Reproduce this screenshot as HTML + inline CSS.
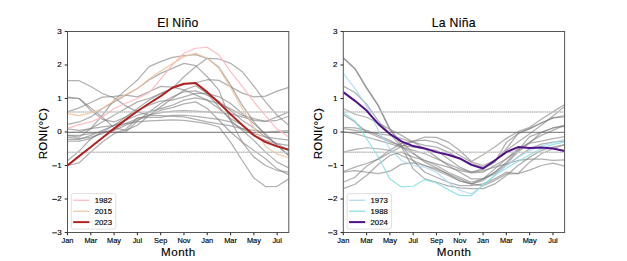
<!DOCTYPE html>
<html><head><meta charset="utf-8"><style>
html,body{margin:0;padding:0;background:#fff;width:627px;height:261px;overflow:hidden}
svg{display:block}
text{font-family:"Liberation Sans", sans-serif;fill:#000;stroke:#000;stroke-width:0.15px}
</style></head><body>
<svg width="627" height="261" viewBox="0 0 627 261">
<rect width="627" height="261" fill="#fff"/>
<g>
<clipPath id="clipL"><rect x="67.5" y="31.5" width="221.3" height="201.0"/></clipPath>
<g clip-path="url(#clipL)">
<polyline points="67.50,80.74 79.15,80.74 90.79,86.44 102.44,93.47 114.09,97.83 125.74,105.87 137.38,111.90 149.03,115.25 160.68,115.58 172.33,116.26 183.97,116.92 195.62,119.27 207.27,121.95 218.92,123.96 230.56,125.97 242.21,128.65 253.86,130.32 265.51,132.00 277.15,131.33 288.80,130.66" fill="none" stroke="#808080" stroke-width="1.25" stroke-opacity="0.62" stroke-linejoin="round" stroke-linecap="butt" />
<polyline points="67.50,135.35 79.15,137.02 90.79,128.65 102.44,115.25 114.09,100.17 125.74,90.12 137.38,80.08 149.03,66.67 160.68,61.65 172.33,57.29 183.97,55.62 195.62,54.61 207.27,58.30 218.92,67.34 230.56,85.10 242.21,105.20 253.86,121.95 265.51,135.35 277.15,145.40 288.80,155.45" fill="none" stroke="#808080" stroke-width="1.25" stroke-opacity="0.62" stroke-linejoin="round" stroke-linecap="butt" />
<polyline points="67.50,141.05 79.15,141.05 90.79,138.70 102.44,132.00 114.09,125.30 125.74,116.92 137.38,108.55 149.03,100.17 160.68,93.47 172.33,88.45 183.97,76.72 195.62,66.67 207.27,58.30 218.92,58.97 230.56,63.33 242.21,71.70 253.86,86.10 265.51,101.85 277.15,115.25 288.80,125.30" fill="none" stroke="#808080" stroke-width="1.25" stroke-opacity="0.62" stroke-linejoin="round" stroke-linecap="butt" />
<polyline points="67.50,124.30 79.15,121.95 90.79,116.92 102.44,108.55 114.09,101.85 125.74,95.15 137.38,88.45 149.03,80.08 160.68,73.38 172.33,68.35 183.97,63.33 195.62,65.67 207.27,76.72 218.92,90.12 230.56,120.27 242.21,142.05 253.86,157.12 265.51,165.50 277.15,170.53 288.80,172.20" fill="none" stroke="#808080" stroke-width="1.25" stroke-opacity="0.62" stroke-linejoin="round" stroke-linecap="butt" />
<polyline points="67.50,132.67 79.15,132.00 90.79,128.65 102.44,121.95 114.09,115.25 125.74,108.55 137.38,101.85 149.03,98.50 160.68,93.47 172.33,88.45 183.97,84.43 195.62,82.76 207.27,79.74 218.92,80.41 230.56,86.78 242.21,93.14 253.86,96.83 265.51,96.16 277.15,91.13 288.80,87.44" fill="none" stroke="#808080" stroke-width="1.25" stroke-opacity="0.62" stroke-linejoin="round" stroke-linecap="butt" />
<polyline points="67.50,97.16 79.15,98.50 90.79,107.88 102.44,117.26 114.09,127.64 125.74,130.32 137.38,125.30 149.03,115.25 160.68,106.88 172.33,98.50 183.97,90.12 195.62,85.77 207.27,93.47 218.92,106.88 230.56,120.27 242.21,130.32 253.86,140.38 265.51,152.10 277.15,162.15 288.80,167.84" fill="none" stroke="#808080" stroke-width="1.25" stroke-opacity="0.62" stroke-linejoin="round" stroke-linecap="butt" />
<polyline points="67.50,97.83 79.15,98.50 90.79,110.23 102.44,119.27 114.09,121.95 125.74,116.92 137.38,110.23 149.03,105.20 160.68,101.18 172.33,100.17 183.97,96.83 195.62,93.47 207.27,93.47 218.92,96.83 230.56,103.53 242.21,113.58 253.86,123.62 265.51,133.68 277.15,145.40 288.80,155.45" fill="none" stroke="#808080" stroke-width="1.25" stroke-opacity="0.62" stroke-linejoin="round" stroke-linecap="butt" />
<polyline points="67.50,111.90 79.15,107.88 90.79,102.52 102.44,97.16 114.09,96.49 125.74,95.15 137.38,96.83 149.03,91.80 160.68,86.44 172.33,87.11 183.97,89.79 195.62,94.81 207.27,100.17 218.92,108.55 230.56,118.60 242.21,125.30 253.86,133.68 265.51,137.02 277.15,138.70 288.80,140.04" fill="none" stroke="#808080" stroke-width="1.25" stroke-opacity="0.62" stroke-linejoin="round" stroke-linecap="butt" />
<polyline points="67.50,160.81 79.15,151.09 90.79,138.70 102.44,132.00 114.09,130.32 125.74,125.30 137.38,120.27 149.03,115.25 160.68,110.23 172.33,107.55 183.97,103.86 195.62,101.85 207.27,108.55 218.92,120.27 230.56,132.00 242.21,142.05 253.86,150.43 265.51,158.80 277.15,168.85 288.80,174.88" fill="none" stroke="#808080" stroke-width="1.25" stroke-opacity="0.62" stroke-linejoin="round" stroke-linecap="butt" />
<polyline points="67.50,165.50 79.15,162.82 90.79,152.10 102.44,142.05 114.09,133.68 125.74,129.32 137.38,117.93 149.03,117.26 160.68,117.26 172.33,115.25 183.97,115.25 195.62,116.26 207.27,117.93 218.92,119.27 230.56,121.95 242.21,128.65 253.86,135.35 265.51,140.38 277.15,143.73 288.80,145.40" fill="none" stroke="#808080" stroke-width="1.25" stroke-opacity="0.62" stroke-linejoin="round" stroke-linecap="butt" />
<polyline points="67.50,128.99 79.15,130.32 90.79,128.65 102.44,126.98 114.09,125.30 125.74,123.62 137.38,121.95 149.03,120.94 160.68,120.27 172.33,119.94 183.97,120.27 195.62,121.95 207.27,123.62 218.92,126.98 230.56,142.05 242.21,160.48 253.86,177.90 265.51,186.60 277.15,186.27 288.80,178.90" fill="none" stroke="#808080" stroke-width="1.25" stroke-opacity="0.62" stroke-linejoin="round" stroke-linecap="butt" />
<polyline points="67.50,135.35 79.15,135.35 90.79,133.68 102.44,132.00 114.09,132.00 125.74,132.00 137.38,120.94 149.03,111.90 160.68,103.53 172.33,96.83 183.97,91.80 195.62,90.79 207.27,95.15 218.92,101.18 230.56,110.56 242.21,120.27 253.86,127.98 265.51,137.02 277.15,143.73 288.80,150.43" fill="none" stroke="#808080" stroke-width="1.25" stroke-opacity="0.62" stroke-linejoin="round" stroke-linecap="butt" />
<polyline points="67.50,137.02 79.15,138.70 90.79,137.02 102.44,133.68 114.09,128.65 125.74,123.62 137.38,118.60 149.03,115.25 160.68,112.57 172.33,111.23 183.97,110.56 195.62,111.23 207.27,111.90 218.92,112.57 230.56,113.58 242.21,116.92 253.86,120.27 265.51,121.28 277.15,116.92 288.80,111.90" fill="none" stroke="#808080" stroke-width="1.25" stroke-opacity="0.62" stroke-linejoin="round" stroke-linecap="butt" />
<polyline points="67.50,139.37 79.15,139.37 90.79,135.35 102.44,130.32 114.09,125.30 125.74,120.27 137.38,115.25 149.03,111.90 160.68,108.55 172.33,105.20 183.97,100.17 195.62,97.83 207.27,100.17 218.92,103.53 230.56,108.89 242.21,115.25 253.86,118.60 265.51,121.28 277.15,120.27 288.80,116.26" fill="none" stroke="#808080" stroke-width="1.25" stroke-opacity="0.62" stroke-linejoin="round" stroke-linecap="butt" />
<line x1="67.5" x2="288.8" y1="132.30" y2="132.30" stroke="#707070" stroke-width="1.0"/>
<line x1="67.5" x2="288.8" y1="112.00" y2="112.00" stroke="#d4d4d4" stroke-width="1.0"/>
<line x1="68" x2="288.8" y1="112.00" y2="112.00" stroke="#a8a8a8" stroke-width="1.0" stroke-dasharray="1,1.16"/>
<line x1="67.5" x2="288.8" y1="152.20" y2="152.20" stroke="#d4d4d4" stroke-width="1.0"/>
<line x1="68" x2="288.8" y1="152.20" y2="152.20" stroke="#a8a8a8" stroke-width="1.0" stroke-dasharray="1,1.16"/>
<polyline points="67.50,128.31 79.15,124.63 90.79,121.95 102.44,116.92 114.09,108.55 125.74,103.19 137.38,98.50 149.03,92.81 160.68,79.07 172.33,65.00 183.97,53.28 195.62,48.25 207.27,47.25 218.92,54.95 230.56,71.70 242.21,86.44 253.86,101.85 265.51,115.58 277.15,129.32 288.80,137.02" fill="none" stroke="#ffb6c1" stroke-width="1.2" stroke-opacity="0.9" stroke-linejoin="round" stroke-linecap="butt" />
<polyline points="67.50,113.58 79.15,115.58 90.79,112.91 102.44,108.55 114.09,100.84 125.74,94.81 137.38,88.45 149.03,79.07 160.68,71.03 172.33,63.66 183.97,56.62 195.62,53.28 207.27,58.30 218.92,68.35 230.56,87.44 242.21,108.55 253.86,127.64 265.51,146.41 277.15,154.11 288.80,157.80" fill="none" stroke="#f0c4a0" stroke-width="1.2" stroke-opacity="0.9" stroke-linejoin="round" stroke-linecap="butt" />
<polyline points="67.50,165.50 79.15,156.12 90.79,147.07 102.44,137.69 114.09,128.65 125.74,119.61 137.38,111.23 149.03,103.53 160.68,96.16 172.33,87.78 183.97,83.76 195.62,83.09 207.27,92.14 218.92,102.85 230.56,114.24 242.21,124.96 253.86,135.35 265.51,142.05 277.15,146.41 288.80,149.75" fill="none" stroke="#b22222" stroke-width="2.0" stroke-opacity="1.0" stroke-linejoin="round" stroke-linecap="butt" />
</g>
<rect x="67.5" y="31.5" width="221.3" height="201.0" fill="none" stroke="#555" stroke-width="1.0"/>
<line x1="64.7" x2="67.5" y1="232.50" y2="232.50" stroke="#333" stroke-width="1.1"/>
<text x="61.60" y="234.80" text-anchor="end" font-size="8.0">3</text>
<rect x="52.30" y="232.40" width="4.6" height="0.9" fill="#000"/>
<line x1="64.7" x2="67.5" y1="199.00" y2="199.00" stroke="#333" stroke-width="1.1"/>
<text x="61.60" y="201.30" text-anchor="end" font-size="8.0">2</text>
<rect x="52.30" y="198.90" width="4.6" height="0.9" fill="#000"/>
<line x1="64.7" x2="67.5" y1="165.50" y2="165.50" stroke="#333" stroke-width="1.1"/>
<text x="61.60" y="167.80" text-anchor="end" font-size="8.0">1</text>
<rect x="52.30" y="165.40" width="4.6" height="0.9" fill="#000"/>
<line x1="64.7" x2="67.5" y1="132.00" y2="132.00" stroke="#333" stroke-width="1.1"/>
<text x="61.60" y="134.30" text-anchor="end" font-size="8.0">0</text>
<line x1="64.7" x2="67.5" y1="98.50" y2="98.50" stroke="#333" stroke-width="1.1"/>
<text x="61.60" y="100.80" text-anchor="end" font-size="8.0">1</text>
<line x1="64.7" x2="67.5" y1="65.00" y2="65.00" stroke="#333" stroke-width="1.1"/>
<text x="61.60" y="67.30" text-anchor="end" font-size="8.0">2</text>
<line x1="64.7" x2="67.5" y1="31.50" y2="31.50" stroke="#333" stroke-width="1.1"/>
<text x="61.60" y="33.80" text-anchor="end" font-size="8.0">3</text>
<line x1="67.50" x2="67.50" y1="232.5" y2="235.3" stroke="#333" stroke-width="1.1"/>
<text x="67.50" y="242.90" text-anchor="middle" font-size="7.4">Jan</text>
<line x1="90.79" x2="90.79" y1="232.5" y2="235.3" stroke="#333" stroke-width="1.1"/>
<text x="90.79" y="242.90" text-anchor="middle" font-size="7.4">Mar</text>
<line x1="114.09" x2="114.09" y1="232.5" y2="235.3" stroke="#333" stroke-width="1.1"/>
<text x="114.09" y="242.90" text-anchor="middle" font-size="7.4">May</text>
<line x1="137.38" x2="137.38" y1="232.5" y2="235.3" stroke="#333" stroke-width="1.1"/>
<text x="137.38" y="242.90" text-anchor="middle" font-size="7.4">Jul</text>
<line x1="160.68" x2="160.68" y1="232.5" y2="235.3" stroke="#333" stroke-width="1.1"/>
<text x="160.68" y="242.90" text-anchor="middle" font-size="7.4">Sep</text>
<line x1="183.97" x2="183.97" y1="232.5" y2="235.3" stroke="#333" stroke-width="1.1"/>
<text x="183.97" y="242.90" text-anchor="middle" font-size="7.4">Nov</text>
<line x1="207.27" x2="207.27" y1="232.5" y2="235.3" stroke="#333" stroke-width="1.1"/>
<text x="207.27" y="242.90" text-anchor="middle" font-size="7.4">Jan</text>
<line x1="230.56" x2="230.56" y1="232.5" y2="235.3" stroke="#333" stroke-width="1.1"/>
<text x="230.56" y="242.90" text-anchor="middle" font-size="7.4">Mar</text>
<line x1="253.86" x2="253.86" y1="232.5" y2="235.3" stroke="#333" stroke-width="1.1"/>
<text x="253.86" y="242.90" text-anchor="middle" font-size="7.4">May</text>
<line x1="277.15" x2="277.15" y1="232.5" y2="235.3" stroke="#333" stroke-width="1.1"/>
<text x="277.15" y="242.90" text-anchor="middle" font-size="7.4">Jul</text>
<text x="177.95" y="26.9" text-anchor="middle" font-size="12.2" letter-spacing="0.3">El Niño</text>
<text x="178.40" y="256.4" text-anchor="middle" font-size="11.6" letter-spacing="0.5">Month</text>
<text transform="translate(46.60,133.70) rotate(-90)" text-anchor="middle" font-size="11.6" letter-spacing="0.2">RONI(°C)</text>
<rect x="71.3" y="193.6" width="44.5" height="35.5" rx="2" fill="#fff" fill-opacity="0.8" stroke="#d8d8d8" stroke-width="0.8"/>
<line x1="73.2" x2="89.4" y1="200.25" y2="200.25" stroke="#ffb6c1" stroke-width="1.2"/>
<text x="94.69999999999999" y="203.05" font-size="7.8">1982</text>
<line x1="73.2" x2="89.4" y1="211.18" y2="211.18" stroke="#f0c4a0" stroke-width="1.2"/>
<text x="94.69999999999999" y="213.98" font-size="7.8">2015</text>
<line x1="73.2" x2="89.4" y1="222.11" y2="222.11" stroke="#b22222" stroke-width="2.0"/>
<text x="94.69999999999999" y="224.91" font-size="7.8">2023</text>
</g>
<g>
<clipPath id="clipR"><rect x="343.3" y="31.5" width="221.3" height="201.0"/></clipPath>
<g clip-path="url(#clipR)">
<polyline points="343.30,57.63 354.95,68.35 366.59,87.44 378.24,105.20 389.89,128.65 401.54,145.40 413.18,160.81 424.83,172.20 436.48,177.22 448.13,182.25 459.77,185.60 471.42,185.60 483.07,183.93 494.72,178.90 506.36,172.20 518.01,173.54 529.66,170.19 541.31,165.50 552.95,163.16 564.60,166.17" fill="none" stroke="#808080" stroke-width="1.25" stroke-opacity="0.62" stroke-linejoin="round" stroke-linecap="butt" />
<polyline points="343.30,58.30 354.95,69.02 366.59,88.45 378.24,105.87 389.89,129.99 401.54,142.05 413.18,153.11 424.83,162.15 436.48,167.84 448.13,174.21 459.77,181.25 471.42,183.93 483.07,178.90 494.72,168.85 506.36,158.80 518.01,148.75 529.66,143.06 541.31,132.33 552.95,127.98 564.60,126.31" fill="none" stroke="#808080" stroke-width="1.25" stroke-opacity="0.62" stroke-linejoin="round" stroke-linecap="butt" />
<polyline points="343.30,86.10 354.95,92.47 366.59,104.19 378.24,120.94 389.89,133.68 401.54,147.07 413.18,168.85 424.83,178.90 436.48,182.25 448.13,185.94 459.77,187.94 471.42,188.62 483.07,188.62 494.72,183.93 506.36,175.55 518.01,165.50 529.66,157.12 541.31,150.43 552.95,147.07 564.60,144.73" fill="none" stroke="#808080" stroke-width="1.25" stroke-opacity="0.62" stroke-linejoin="round" stroke-linecap="butt" />
<polyline points="343.30,108.55 354.95,114.24 366.59,117.26 378.24,122.95 389.89,129.32 401.54,135.35 413.18,142.05 424.83,148.75 436.48,157.12 448.13,165.50 459.77,172.20 471.42,178.90 483.07,178.90 494.72,173.88 506.36,165.50 518.01,157.12 529.66,148.75 541.31,144.06 552.95,142.05 564.60,141.05" fill="none" stroke="#808080" stroke-width="1.25" stroke-opacity="0.62" stroke-linejoin="round" stroke-linecap="butt" />
<polyline points="343.30,114.58 354.95,121.95 366.59,132.00 378.24,137.02 389.89,142.05 401.54,145.40 413.18,147.07 424.83,148.75 436.48,150.43 448.13,158.80 459.77,167.18 471.42,172.20 483.07,170.53 494.72,167.18 506.36,163.82 518.01,160.48 529.66,159.13 541.31,159.13 552.95,160.48 564.60,159.81" fill="none" stroke="#808080" stroke-width="1.25" stroke-opacity="0.62" stroke-linejoin="round" stroke-linecap="butt" />
<polyline points="343.30,127.31 354.95,127.98 366.59,130.32 378.24,135.35 389.89,140.38 401.54,147.07 413.18,153.77 424.83,160.48 436.48,165.50 448.13,172.20 459.77,177.22 471.42,182.25 483.07,178.90 494.72,172.20 506.36,163.82 518.01,152.10 529.66,143.06 541.31,141.05 552.95,138.70 564.60,136.69" fill="none" stroke="#808080" stroke-width="1.25" stroke-opacity="0.62" stroke-linejoin="round" stroke-linecap="butt" />
<polyline points="343.30,128.65 354.95,130.32 366.59,132.00 378.24,133.68 389.89,135.35 401.54,138.70 413.18,142.05 424.83,145.40 436.48,147.07 448.13,152.10 459.77,158.80 471.42,163.82 483.07,167.18 494.72,162.15 506.36,148.75 518.01,133.68 529.66,128.65 541.31,122.95 552.95,117.93 564.60,115.58" fill="none" stroke="#808080" stroke-width="1.25" stroke-opacity="0.62" stroke-linejoin="round" stroke-linecap="butt" />
<polyline points="343.30,131.67 354.95,133.68 366.59,137.02 378.24,140.38 389.89,143.73 401.54,147.07 413.18,150.43 424.83,153.77 436.48,158.80 448.13,163.82 459.77,168.85 471.42,172.20 483.07,168.85 494.72,162.15 506.36,142.38 518.01,133.68 529.66,128.65 541.31,122.95 552.95,117.93 564.60,116.92" fill="none" stroke="#808080" stroke-width="1.25" stroke-opacity="0.62" stroke-linejoin="round" stroke-linecap="butt" />
<polyline points="343.30,152.10 354.95,149.42 366.59,147.75 378.24,148.75 389.89,150.43 401.54,155.45 413.18,160.48 424.83,165.50 436.48,170.53 448.13,175.55 459.77,180.57 471.42,183.93 483.07,180.57 494.72,172.20 506.36,162.15 518.01,150.43 529.66,142.05 541.31,135.35 552.95,130.32 564.60,125.30" fill="none" stroke="#808080" stroke-width="1.25" stroke-opacity="0.62" stroke-linejoin="round" stroke-linecap="butt" />
<polyline points="343.30,171.53 354.95,167.18 366.59,163.49 378.24,159.13 389.89,152.77 401.54,146.41 413.18,141.38 424.83,137.02 436.48,137.36 448.13,142.05 459.77,150.43 471.42,161.48 483.07,154.78 494.72,147.07 506.36,138.37 518.01,131.67 529.66,127.31 541.31,119.27 552.95,111.90 564.60,104.53" fill="none" stroke="#808080" stroke-width="1.25" stroke-opacity="0.62" stroke-linejoin="round" stroke-linecap="butt" />
<polyline points="343.30,182.25 354.95,177.22 366.59,166.17 378.24,158.80 389.89,150.09 401.54,143.39 413.18,141.05 424.83,140.04 436.48,142.38 448.13,148.08 459.77,155.45 471.42,162.15 483.07,165.50 494.72,160.48 506.36,150.43 518.01,142.05 529.66,133.68 541.31,125.30 552.95,115.92 564.60,106.54" fill="none" stroke="#808080" stroke-width="1.25" stroke-opacity="0.62" stroke-linejoin="round" stroke-linecap="butt" />
<polyline points="343.30,172.20 354.95,170.53 366.59,172.20 378.24,173.54 389.89,171.19 401.54,164.16 413.18,162.82 424.83,165.50 436.48,168.85 448.13,173.88 459.77,178.90 471.42,183.93 483.07,185.60 494.72,180.57 506.36,173.88 518.01,173.54 529.66,162.15 541.31,153.77 552.95,148.75 564.60,144.73" fill="none" stroke="#808080" stroke-width="1.25" stroke-opacity="0.62" stroke-linejoin="round" stroke-linecap="butt" />
<polyline points="343.30,188.62 354.95,184.26 366.59,175.55 378.24,164.50 389.89,155.45 401.54,152.10 413.18,157.12 424.83,160.48 436.48,163.82 448.13,167.18 459.77,170.53 471.42,172.87 483.07,172.20 494.72,165.50 506.36,158.80 518.01,150.43 529.66,136.69 541.31,132.33 552.95,127.98 564.60,125.30" fill="none" stroke="#808080" stroke-width="1.25" stroke-opacity="0.62" stroke-linejoin="round" stroke-linecap="butt" />
<line x1="343.3" x2="564.6" y1="132.30" y2="132.30" stroke="#707070" stroke-width="1.0"/>
<line x1="343.3" x2="564.6" y1="112.00" y2="112.00" stroke="#d4d4d4" stroke-width="1.0"/>
<line x1="344" x2="564.6" y1="112.00" y2="112.00" stroke="#a8a8a8" stroke-width="1.0" stroke-dasharray="1,1.16"/>
<line x1="343.3" x2="564.6" y1="152.20" y2="152.20" stroke="#d4d4d4" stroke-width="1.0"/>
<line x1="344" x2="564.6" y1="152.20" y2="152.20" stroke="#a8a8a8" stroke-width="1.0" stroke-dasharray="1,1.16"/>
<polyline points="343.30,73.38 354.95,88.45 366.59,105.87 378.24,130.32 389.89,148.75 401.54,160.48 413.18,165.50 424.83,167.18 436.48,172.20 448.13,182.25 459.77,190.29 471.42,193.97 483.07,185.60 494.72,175.55 506.36,165.50 518.01,157.12 529.66,150.43 541.31,146.07 552.95,142.72 564.60,139.37" fill="none" stroke="#add8f0" stroke-width="1.2" stroke-opacity="0.85" stroke-linejoin="round" stroke-linecap="butt" />
<polyline points="343.30,112.57 354.95,120.94 366.59,138.70 378.24,156.79 389.89,178.90 401.54,186.94 413.18,186.27 424.83,179.57 436.48,182.92 448.13,189.62 459.77,195.65 471.42,195.65 483.07,184.93 494.72,175.55 506.36,168.18 518.01,161.48 529.66,154.78 541.31,148.75 552.95,144.39 564.60,142.05" fill="none" stroke="#80dede" stroke-width="1.2" stroke-opacity="0.8" stroke-linejoin="round" stroke-linecap="butt" />
<polyline points="343.30,92.14 354.95,100.84 366.59,110.56 378.24,123.96 389.89,134.01 401.54,141.38 413.18,146.07 424.83,148.42 436.48,152.10 448.13,154.78 459.77,158.47 471.42,164.83 483.07,168.52 494.72,160.48 506.36,152.10 518.01,147.07 529.66,148.08 541.31,147.41 552.95,148.42 564.60,151.09" fill="none" stroke="#50108a" stroke-width="2.0" stroke-opacity="1.0" stroke-linejoin="round" stroke-linecap="butt" />
</g>
<rect x="343.3" y="31.5" width="221.3" height="201.0" fill="none" stroke="#555" stroke-width="1.0"/>
<line x1="340.5" x2="343.3" y1="232.50" y2="232.50" stroke="#333" stroke-width="1.1"/>
<text x="337.40" y="234.80" text-anchor="end" font-size="8.0">3</text>
<rect x="328.10" y="232.40" width="4.6" height="0.9" fill="#000"/>
<line x1="340.5" x2="343.3" y1="199.00" y2="199.00" stroke="#333" stroke-width="1.1"/>
<text x="337.40" y="201.30" text-anchor="end" font-size="8.0">2</text>
<rect x="328.10" y="198.90" width="4.6" height="0.9" fill="#000"/>
<line x1="340.5" x2="343.3" y1="165.50" y2="165.50" stroke="#333" stroke-width="1.1"/>
<text x="337.40" y="167.80" text-anchor="end" font-size="8.0">1</text>
<rect x="328.10" y="165.40" width="4.6" height="0.9" fill="#000"/>
<line x1="340.5" x2="343.3" y1="132.00" y2="132.00" stroke="#333" stroke-width="1.1"/>
<text x="337.40" y="134.30" text-anchor="end" font-size="8.0">0</text>
<line x1="340.5" x2="343.3" y1="98.50" y2="98.50" stroke="#333" stroke-width="1.1"/>
<text x="337.40" y="100.80" text-anchor="end" font-size="8.0">1</text>
<line x1="340.5" x2="343.3" y1="65.00" y2="65.00" stroke="#333" stroke-width="1.1"/>
<text x="337.40" y="67.30" text-anchor="end" font-size="8.0">2</text>
<line x1="340.5" x2="343.3" y1="31.50" y2="31.50" stroke="#333" stroke-width="1.1"/>
<text x="337.40" y="33.80" text-anchor="end" font-size="8.0">3</text>
<line x1="343.30" x2="343.30" y1="232.5" y2="235.3" stroke="#333" stroke-width="1.1"/>
<text x="343.30" y="242.90" text-anchor="middle" font-size="7.4">Jan</text>
<line x1="366.59" x2="366.59" y1="232.5" y2="235.3" stroke="#333" stroke-width="1.1"/>
<text x="366.59" y="242.90" text-anchor="middle" font-size="7.4">Mar</text>
<line x1="389.89" x2="389.89" y1="232.5" y2="235.3" stroke="#333" stroke-width="1.1"/>
<text x="389.89" y="242.90" text-anchor="middle" font-size="7.4">May</text>
<line x1="413.18" x2="413.18" y1="232.5" y2="235.3" stroke="#333" stroke-width="1.1"/>
<text x="413.18" y="242.90" text-anchor="middle" font-size="7.4">Jul</text>
<line x1="436.48" x2="436.48" y1="232.5" y2="235.3" stroke="#333" stroke-width="1.1"/>
<text x="436.48" y="242.90" text-anchor="middle" font-size="7.4">Sep</text>
<line x1="459.77" x2="459.77" y1="232.5" y2="235.3" stroke="#333" stroke-width="1.1"/>
<text x="459.77" y="242.90" text-anchor="middle" font-size="7.4">Nov</text>
<line x1="483.07" x2="483.07" y1="232.5" y2="235.3" stroke="#333" stroke-width="1.1"/>
<text x="483.07" y="242.90" text-anchor="middle" font-size="7.4">Jan</text>
<line x1="506.36" x2="506.36" y1="232.5" y2="235.3" stroke="#333" stroke-width="1.1"/>
<text x="506.36" y="242.90" text-anchor="middle" font-size="7.4">Mar</text>
<line x1="529.66" x2="529.66" y1="232.5" y2="235.3" stroke="#333" stroke-width="1.1"/>
<text x="529.66" y="242.90" text-anchor="middle" font-size="7.4">May</text>
<line x1="552.95" x2="552.95" y1="232.5" y2="235.3" stroke="#333" stroke-width="1.1"/>
<text x="552.95" y="242.90" text-anchor="middle" font-size="7.4">Jul</text>
<text x="453.75" y="26.9" text-anchor="middle" font-size="12.2" letter-spacing="0.3">La Niña</text>
<text x="454.20" y="256.4" text-anchor="middle" font-size="11.6" letter-spacing="0.5">Month</text>
<text transform="translate(322.40,133.70) rotate(-90)" text-anchor="middle" font-size="11.6" letter-spacing="0.2">RONI(°C)</text>
<rect x="347.1" y="193.6" width="44.5" height="35.5" rx="2" fill="#fff" fill-opacity="0.8" stroke="#d8d8d8" stroke-width="0.8"/>
<line x1="349.0" x2="365.20000000000005" y1="200.25" y2="200.25" stroke="#add8f0" stroke-width="1.2"/>
<text x="370.5" y="203.05" font-size="7.8">1973</text>
<line x1="349.0" x2="365.20000000000005" y1="211.18" y2="211.18" stroke="#80dede" stroke-width="1.2"/>
<text x="370.5" y="213.98" font-size="7.8">1988</text>
<line x1="349.0" x2="365.20000000000005" y1="222.11" y2="222.11" stroke="#50108a" stroke-width="2.0"/>
<text x="370.5" y="224.91" font-size="7.8">2024</text>
</g>
</svg></body></html>
